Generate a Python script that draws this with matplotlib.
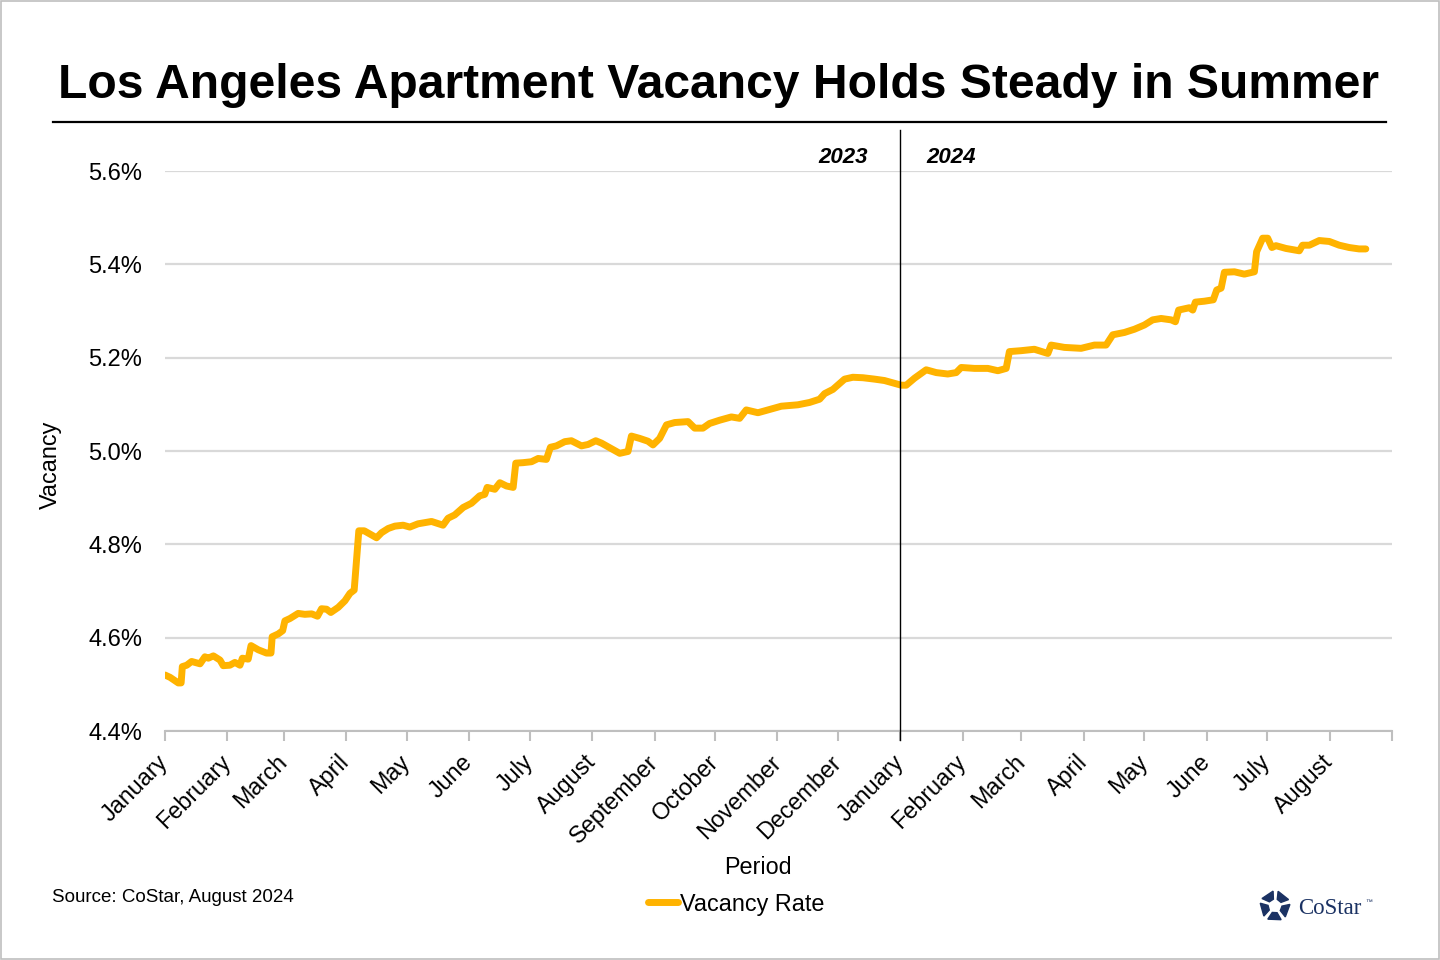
import matplotlib
matplotlib.use('Agg')
import matplotlib.pyplot as plt
from matplotlib.patches import Rectangle, Polygon
import numpy as np
import pandas as pd

# vacancy rate (%), day offsets counted from 2023-01-01
day_offsets = [0, 2.5, 6.6, 8, 8.6, 10.8, 13.2, 17.4, 19.8, 21.5, 24, 27.3, 28.9, 32.2, 34.7,
               37.2, 38.4, 41.3, 42.7, 46.3, 50.4, 52.6, 53.2, 56.2, 58.4, 59.5, 62, 66.1,
               69.4, 72.8, 75.7, 77.7, 80.2, 82.3, 86, 89.3, 91.8, 93.9, 95, 96.2, 98.9, 105,
               107.5, 110.8, 114.1, 118.2, 121.5, 125.6, 132.3, 138, 140.5, 143.8, 148,
               152.1, 156.2, 158.7, 159.9, 163.7, 166.2, 169.5, 172.8, 174.1, 177.7, 181.9,
               185.2, 189.3, 191.3, 194.3, 198.4, 201.7, 206.7, 210, 213.8, 216.6, 220.7,
               225.7, 229.8, 231.5, 235.6, 239.7, 242.2, 245.5, 248.9, 253, 259.6, 262.9,
               267, 270.3, 275.3, 281.1, 285.2, 288.5, 294.3, 300.1, 305.9, 314.1, 319.9,
               324.9, 327.4, 331.5, 337.3, 341.4, 346.4, 352.2, 357.1, 363.7, 365.4, 367.9,
               372, 377.8, 382.8, 388.5, 392.7, 395.2, 401.8, 408.4, 413.4, 417.5, 419.1,
               425, 431.5, 438.2, 439.8, 446.4, 454.7, 461.3, 467.1, 470.4, 476.2, 481.2,
               486.1, 490.2, 494.4, 499.4, 501.5, 503.1, 508.4, 510.1, 511.4, 515.9, 520.3,
               522, 524.2, 525.8, 530.8, 535.7, 540.7, 541.8, 544.8, 547.3, 549.4, 551.4,
               556.4, 563, 564.6, 568, 572.9, 577.9, 582.8, 587.8, 592.7, 596]
vacancy = [4.520, 4.515, 4.503, 4.503, 4.538, 4.541, 4.549, 4.544, 4.559, 4.556, 4.561, 4.552,
           4.540, 4.541, 4.547, 4.541, 4.556, 4.554, 4.583, 4.574, 4.567, 4.567, 4.602, 4.608,
           4.615, 4.636, 4.641, 4.652, 4.650, 4.651, 4.646, 4.662, 4.661, 4.654, 4.665, 4.679,
           4.695, 4.702, 4.763, 4.829, 4.829, 4.814, 4.825, 4.834, 4.839, 4.841, 4.837, 4.844,
           4.849, 4.841, 4.856, 4.863, 4.879, 4.888, 4.904, 4.907, 4.922, 4.918, 4.932, 4.925,
           4.922, 4.974, 4.975, 4.977, 4.984, 4.982, 5.008, 5.011, 5.020, 5.022, 5.011, 5.014,
           5.022, 5.017, 5.007, 4.995, 4.999, 5.032, 5.027, 5.021, 5.013, 5.027, 5.056, 5.061,
           5.063, 5.049, 5.049, 5.059, 5.066, 5.073, 5.070, 5.088, 5.082, 5.089, 5.096, 5.099,
           5.104, 5.111, 5.123, 5.132, 5.154, 5.158, 5.157, 5.154, 5.151, 5.143, 5.141, 5.141,
           5.156, 5.174, 5.168, 5.165, 5.168, 5.179, 5.177, 5.177, 5.172, 5.177, 5.213, 5.215,
           5.218, 5.209, 5.227, 5.222, 5.220, 5.227, 5.227, 5.249, 5.254, 5.261, 5.270,
           5.281, 5.284, 5.281, 5.277, 5.302, 5.307, 5.302, 5.319, 5.321, 5.324, 5.345, 5.349,
           5.383, 5.384, 5.379, 5.384, 5.427, 5.456, 5.456, 5.436, 5.440, 5.434, 5.429, 5.441,
           5.441, 5.451, 5.449, 5.441, 5.436, 5.433, 5.433]

month_labels = ['January', 'February', 'March', 'April', 'May', 'June', 'July', 'August',
                'September', 'October', 'November', 'December',
                'January', 'February', 'March', 'April', 'May', 'June', 'July', 'August', '']
y_ticks = [4.4, 4.6, 4.8, 5.0, 5.2, 5.4, 5.6]

title = 'Los Angeles Apartment Vacancy Holds Steady in Summer'
source = 'Source: CoStar, August 2024'

plt.rcParams['font.family'] = ['Liberation Sans', 'DejaVu Sans']

dates = pd.Timestamp('2023-01-01') + pd.to_timedelta(day_offsets, unit='D')
month_ticks = pd.date_range('2023-01-01', '2024-09-01', freq='MS')
split = pd.Timestamp('2024-01-01')

fig = plt.figure(figsize=(14.4, 9.6), dpi=100)
ax = fig.add_axes([165/1440, 1 - 731/960, (1392-165)/1440, (731-171)/960])

ax.plot(dates, vacancy, color='#FFB300', lw=5, solid_joinstyle='round',
        solid_capstyle='round', label='Vacancy Rate', zorder=3)

ax.set_ylim(4.4, 5.6)
ax.set_yticks(y_ticks)
ax.set_yticklabels(['%.1f%%' % v for v in y_ticks])
ax.set_xlim(month_ticks[0], month_ticks[-1])
ax.set_xticks(month_ticks)
ax.set_xticklabels(month_labels, rotation=45, ha='right', va='center',
                   rotation_mode='anchor')
ax.grid(axis='y', color='#D9D9D9', lw=1.6)
ax.set_axisbelow(True)
for s in ['top', 'right', 'left']:
    ax.spines[s].set_visible(False)
ax.spines['bottom'].set_color('#BFBFBF')
ax.spines['bottom'].set_linewidth(1.5)
ax.tick_params(axis='y', length=0, pad=16.5, labelsize=17)
ax.tick_params(axis='x', length=7, width=1.5, color='#BFBFBF', pad=13, labelsize=16.8)

# year divider
ax.axvline(split, ymin=-0.016, ymax=1.073, color='black', lw=1, clip_on=False, zorder=4)
ax.text(split - pd.Timedelta(days=16), 5.628, '2023', ha='right', va='center',
        fontsize=16, fontweight='bold', style='italic')
ax.text(split + pd.Timedelta(days=13), 5.628, '2024', ha='left', va='center',
        fontsize=16, fontweight='bold', style='italic')

fig.text(758/1440, 1 - 867/960, 'Period', ha='center', va='center', fontsize=16.8)
fig.text(50/1440, 1 - 465/960, 'Vacancy', ha='center', va='center', fontsize=16.8,
         rotation=90)

fig.legend(loc='center', bbox_to_anchor=(736/1440, 1 - 904/960), frameon=False,
           fontsize=16.8, handlelength=1.3, handletextpad=0.05)

# title and rule
fig.text(718/1440, 1 - 86/960, title, ha='center', va='center', fontsize=34.6,
         fontweight='bold')
fig.add_artist(plt.Line2D([53/1440, 1386/1440], [1 - 122/960, 1 - 122/960],
                          color='black', lw=1.6))

fig.text(52/1440, 1 - 897/960, source, ha='left', va='center', fontsize=13.5)

# CoStar logo (simplified ring of five blocks)
navy = '#1B3263'
cx, cy = 1275, 906
for k in range(5):
    a = np.deg2rad(126 + 72 * k)
    pts = []
    for r, da in [(7, -0.40), (15, -0.50), (15, 0.42), (7, 0.30)]:
        pts.append(((cx + r*np.cos(a + da)) / 1440, 1 - (cy - r*np.sin(a + da)) / 960))
    fig.add_artist(Polygon(pts, closed=True, color=navy, transform=fig.transFigure))
fig.text(1298/1440, 1 - 908/960, 'CoStar', ha='left', va='center', fontsize=16.5,
         family='Liberation Serif', color=navy)
fig.text(1365/1440, 1 - 903/960, '\u2122', ha='left', va='center', fontsize=5,
         color=navy)

# outer border
fig.add_artist(Rectangle((0.0005, 0.0007), 0.999, 0.9986, transform=fig.transFigure,
                         fill=False, edgecolor='#BFBFBF', lw=1.2))

fig.savefig('out.png', dpi=100)
